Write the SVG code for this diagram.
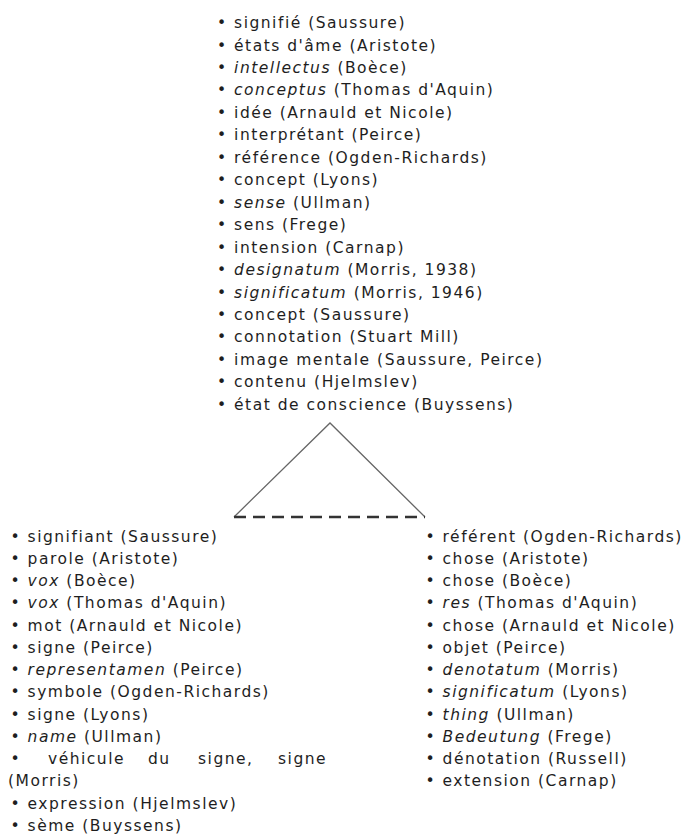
<svg xmlns="http://www.w3.org/2000/svg" width="688" height="834" viewBox="0 0 688 834">
<style>
text{font-family:"DejaVu Sans",Verdana,sans-serif;font-size:15.5px;letter-spacing:1.5px;fill:#1e1e1e}
.i{font-style:italic}
</style>
<rect width="688" height="834" fill="#fff"/>
<g id="top">
<text x="217" y="28">• signifié (Saussure)</text>
<text x="217" y="50.5">• états d'âme (Aristote)</text>
<text x="217" y="73">• <tspan class="i">intellectus</tspan> (Boèce)</text>
<text x="217" y="95.4">• <tspan class="i">conceptus</tspan> (Thomas d'Aquin)</text>
<text x="217" y="117.9">• idée (Arnauld et Nicole)</text>
<text x="217" y="140.3">• interprétant (Peirce)</text>
<text x="217" y="162.8">• référence (Ogden-Richards)</text>
<text x="217" y="185.2">• concept (Lyons)</text>
<text x="217" y="207.7">• <tspan class="i">sense</tspan> (Ullman)</text>
<text x="217" y="230.1">• sens (Frege)</text>
<text x="217" y="252.6">• intension (Carnap)</text>
<text x="217" y="275">• <tspan class="i">designatum</tspan> (Morris, 1938)</text>
<text x="217" y="297.5">• <tspan class="i">significatum</tspan> (Morris, 1946)</text>
<text x="217" y="319.9">• concept (Saussure)</text>
<text x="217" y="342.4">• connotation (Stuart Mill)</text>
<text x="217" y="364.8">• image mentale (Saussure, Peirce)</text>
<text x="217" y="387.3">• contenu (Hjelmslev)</text>
<text x="217" y="409.7">• état de conscience (Buyssens)</text>
</g>
<g id="connectors">
<path d="M234,517 L330,423 L425,517" fill="none" stroke="#666" stroke-width="1.3"/>
<line x1="234" y1="517" x2="425" y2="517" stroke="#333" stroke-width="2.6" stroke-dasharray="12,7"/>
</g>
<g id="left">
<text x="10.5" y="541.7">• signifiant (Saussure)</text>
<text x="10.5" y="563.9">• parole (Aristote)</text>
<text x="10.5" y="586.2">• <tspan class="i">vox</tspan> (Boèce)</text>
<text x="10.5" y="608.4">• <tspan class="i">vox</tspan> (Thomas d'Aquin)</text>
<text x="10.5" y="630.7">• mot (Arnauld et Nicole)</text>
<text x="10.5" y="652.9">• signe (Peirce)</text>
<text x="10.5" y="675.2">• <tspan class="i">representamen</tspan> (Peirce)</text>
<text x="10.5" y="697.4">• symbole (Ogden-Richards)</text>
<text x="10.5" y="719.7">• signe (Lyons)</text>
<text x="10.5" y="741.9">• <tspan class="i">name</tspan> (Ullman)</text>
<text y="764.2"><tspan x="10.5">•</tspan><tspan x="48">véhicule</tspan><tspan x="148">du</tspan><tspan x="198">signe,</tspan><tspan x="278">signe</tspan></text>
<text x="8" y="786.4">(Morris)</text>
<text x="10.5" y="808.7">• expression (Hjelmslev)</text>
<text x="10.5" y="830.9">• sème (Buyssens)</text>
</g>
<g id="right">
<text x="425.5" y="541.7">• référent (Ogden-Richards)</text>
<text x="425.5" y="563.9">• chose (Aristote)</text>
<text x="425.5" y="586.2">• chose (Boèce)</text>
<text x="425.5" y="608.4">• <tspan class="i">res</tspan> (Thomas d'Aquin)</text>
<text x="425.5" y="630.7">• chose (Arnauld et Nicole)</text>
<text x="425.5" y="652.9">• objet (Peirce)</text>
<text x="425.5" y="675.2">• <tspan class="i">denotatum</tspan> (Morris)</text>
<text x="425.5" y="697.4">• <tspan class="i">significatum</tspan> (Lyons)</text>
<text x="425.5" y="719.7">• <tspan class="i">thing</tspan> (Ullman)</text>
<text x="425.5" y="741.9">• <tspan class="i">Bedeutung</tspan> (Frege)</text>
<text x="425.5" y="764.2">• dénotation (Russell)</text>
<text x="425.5" y="786.4">• extension (Carnap)</text>
</g>
</svg>
